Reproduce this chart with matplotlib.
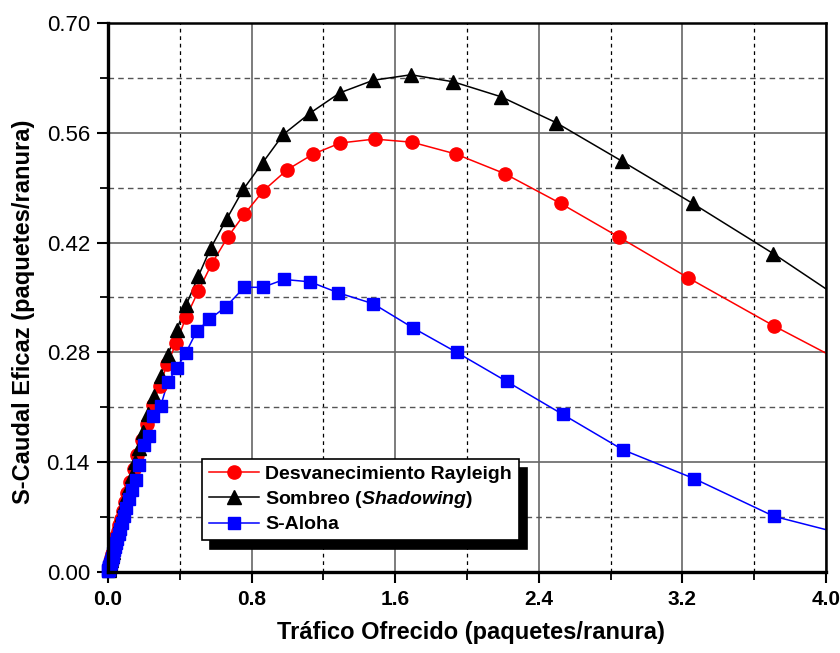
import numpy as np
import matplotlib
matplotlib.use("Agg")
import matplotlib.pyplot as plt
from matplotlib.ticker import MultipleLocator

plt.rcParams["font.family"] = ["Liberation Sans", "DejaVu Sans"]
plt.rcParams["mathtext.fontset"] = "custom"
plt.rcParams["mathtext.it"] = "Liberation Sans:italic:bold"
plt.rcParams["mathtext.rm"] = "Liberation Sans:bold"

# Desvanecimiento Rayleigh (marcadores)
ray_x = [0.005, 0.006, 0.007, 0.009, 0.010, 0.011, 0.013, 0.015, 0.018, 0.020,
         0.023, 0.027, 0.031, 0.036, 0.041, 0.047, 0.054, 0.062, 0.071, 0.082,
         0.094, 0.108, 0.124, 0.143, 0.164, 0.189, 0.217, 0.250, 0.287, 0.330,
         0.380, 0.435, 0.503, 0.578, 0.667, 0.759, 0.865, 0.999, 1.144, 1.294,
         1.485, 1.694, 1.937, 2.209, 2.521, 2.847, 3.233, 3.708]
ray_y = [0.005, 0.006, 0.007, 0.009, 0.010, 0.011, 0.013, 0.015, 0.018, 0.020,
         0.023, 0.026, 0.030, 0.035, 0.040, 0.046, 0.052, 0.060, 0.068, 0.078,
         0.089, 0.101, 0.115, 0.131, 0.149, 0.168, 0.189, 0.213, 0.237, 0.265,
         0.292, 0.325, 0.358, 0.393, 0.427, 0.456, 0.486, 0.513, 0.533, 0.547,
         0.552, 0.548, 0.533, 0.508, 0.470, 0.427, 0.375, 0.314]
ray_end = (4.0, 0.279)

# Sombreo (Shadowing)
sh_x = [0.003, 0.004, 0.005, 0.006, 0.007, 0.008, 0.009, 0.010, 0.012, 0.013,
        0.015, 0.018, 0.020, 0.023, 0.027, 0.030, 0.035, 0.040, 0.045, 0.052,
        0.059, 0.067, 0.077, 0.088, 0.101, 0.115, 0.131, 0.150, 0.172, 0.196,
        0.225, 0.257, 0.293, 0.335, 0.383, 0.435, 0.503, 0.572, 0.661, 0.754,
        0.862, 0.977, 1.125, 1.292, 1.478, 1.688, 1.924, 2.189, 2.496, 2.862,
        3.257, 3.706]
sh_y = [0.003, 0.004, 0.005, 0.006, 0.007, 0.008, 0.009, 0.010, 0.012, 0.013,
        0.015, 0.018, 0.020, 0.023, 0.026, 0.030, 0.034, 0.039, 0.044, 0.050,
        0.057, 0.065, 0.074, 0.085, 0.096, 0.109, 0.123, 0.140, 0.158, 0.178,
        0.201, 0.225, 0.250, 0.277, 0.309, 0.340, 0.377, 0.413, 0.450, 0.488,
        0.522, 0.558, 0.585, 0.611, 0.627, 0.634, 0.625, 0.606, 0.573, 0.524,
        0.470, 0.406]
sh_end = (4.0, 0.361)

# S-Aloha
al_x = [0.001, 0.002, 0.003, 0.004, 0.005, 0.006, 0.007, 0.008, 0.010, 0.011,
        0.013, 0.015, 0.017, 0.020, 0.023, 0.026, 0.030, 0.035, 0.040, 0.046,
        0.052, 0.060, 0.069, 0.079, 0.090, 0.103, 0.118, 0.135, 0.154, 0.173,
        0.200, 0.228, 0.252, 0.294, 0.333, 0.383, 0.433, 0.494, 0.564, 0.656,
        0.759, 0.862, 0.981, 1.125, 1.283, 1.478, 1.701, 1.943, 2.221, 2.533,
        2.867, 3.266, 3.710]
al_y = [0.001, 0.002, 0.002, 0.003, 0.004, 0.005, 0.006, 0.006, 0.008, 0.009,
        0.010, 0.012, 0.014, 0.016, 0.018, 0.021, 0.024, 0.028, 0.032, 0.037,
        0.042, 0.048, 0.055, 0.063, 0.072, 0.082, 0.093, 0.105, 0.117, 0.137,
        0.162, 0.173, 0.199, 0.212, 0.242, 0.260, 0.279, 0.307, 0.322, 0.338,
        0.363, 0.363, 0.373, 0.370, 0.356, 0.342, 0.311, 0.280, 0.243, 0.201,
        0.156, 0.119, 0.071]
al_end = (4.0, 0.054)

x_ticks = [0.0, 0.8, 1.6, 2.4, 3.2, 4.0]
y_ticks = [0.00, 0.14, 0.28, 0.42, 0.56, 0.70]

fig = plt.figure(figsize=(8.4, 6.53), dpi=100, facecolor="white")
ax = fig.add_axes([108 / 840, 1 - 572 / 653, 718 / 840, 549 / 653])

series = [
    (ray_x, ray_y, ray_end, "red", "o", 9.5, "Desvanecimiento Rayleigh"),
    (sh_x, sh_y, sh_end, "black", "^", 10, r"Sombreo ($\mathit{Shadowing}$)"),
    (al_x, al_y, al_end, "blue", "s", 8, "S-Aloha"),
]
for xs, ys, end, col, mk, ms, lab in series:
    ax.plot(list(xs) + [end[0]], list(ys) + [end[1]], color=col, lw=1.1,
            zorder=3)
    ax.plot(xs, ys, linestyle="none", marker=mk, ms=ms, color=col,
            mec=col, zorder=4, clip_on=False)
    # legend proxy
    ax.plot([], [], color=col, lw=1.1, marker=mk, ms=ms, mec=col, label=lab)

ax.set_xlim(0, 4.0)
ax.set_ylim(0, 0.70)
ax.set_xticks(x_ticks)
ax.set_yticks(y_ticks)
ax.set_xticklabels([f"{v:.1f}" for v in x_ticks], fontweight="bold", fontsize=15)
ax.set_yticklabels([f"{v:.2f}" for v in y_ticks], fontsize=16)
ax.xaxis.set_minor_locator(MultipleLocator(0.4))
ax.yaxis.set_minor_locator(MultipleLocator(0.07))
ax.tick_params(which="major", direction="out", length=8, width=1.5, pad=5)
ax.tick_params(which="minor", direction="out", length=6, width=1.3)

ax.set_axisbelow(True)
ax.grid(which="major", color="#666666", lw=1.2, ls="-")
ax.grid(which="minor", axis="x", color="black", lw=0.9, ls=(0, (3, 3)))
ax.grid(which="minor", axis="y", color="#555555", lw=1.0, ls=(0, (4, 3)))

for side, w in (("left", 2.4), ("bottom", 2.4), ("right", 1.8), ("top", 1.8)):
    ax.spines[side].set_linewidth(w)
    ax.spines[side].set_zorder(5)

ax.set_xlabel("Tráfico Ofrecido (paquetes/ranura)", fontsize=17,
              fontweight="bold")
ax.set_ylabel("S-Caudal Eficaz (paquetes/ranura)", fontsize=17,
              fontweight="bold")
ax.xaxis.set_label_coords(0.505, -0.09)
ax.xaxis.label.set_va("top")
ax.yaxis.set_label_coords(-0.102, 0.474)

leg = ax.legend(loc="lower left", bbox_to_anchor=(0.131, 0.058),
                borderaxespad=0, prop={"weight": "bold", "size": 14},
                handlelength=2.6, handletextpad=0.3, labelspacing=0.3,
                borderpad=0.35, fancybox=False, framealpha=1, edgecolor="black",
                shadow={"ox": 6, "oy": -6.5, "color": "black", "alpha": 1})
leg.get_frame().set_linewidth(1.2)
leg.set_zorder(6)

fig.savefig("out.png", dpi=100, facecolor="white")
